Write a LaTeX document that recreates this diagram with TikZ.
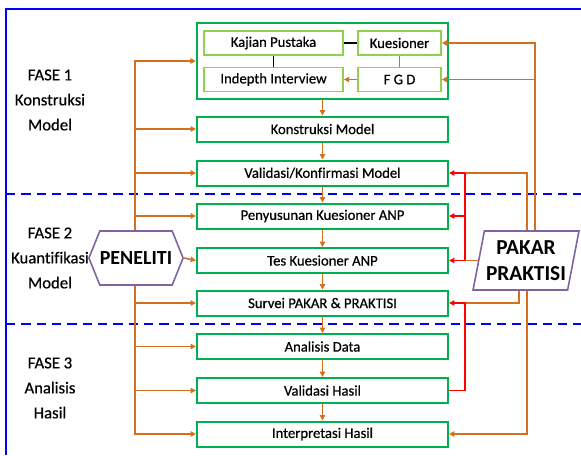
\documentclass[tikz,border=0pt]{standalone}
\usepackage{fontspec}
\setmainfont{Carlito}[Ligatures=NoCommon,UprightFeatures={FakeBold=0.6}]
\usetikzlibrary{arrows.meta,shapes.geometric,shapes.symbols}
\definecolor{biru}{HTML}{0000FF}
\definecolor{hij}{HTML}{00B050}
\definecolor{hijm}{HTML}{92D050}
\definecolor{ora}{HTML}{D46F1E}
\definecolor{ung}{HTML}{8064A2}
\definecolor{mer}{HTML}{FF0000}

\begin{document}
\begin{tikzpicture}[x=0.75pt,y=-0.75pt,
  tahap/.style={draw=hij,line width=1.5pt,minimum width=188.25pt,minimum height=18.75pt,inner sep=0pt,font=\fontsize{11}{13}\selectfont},
  sub/.style={draw=hijm,line width=1.2pt,minimum height=18pt,inner sep=0pt,font=\fontsize{11}{13}\selectfont},
  alir/.style={ora,line width=1.2pt,-{Triangle[length=4pt,width=4pt]}},
  garis/.style={ora,line width=1.2pt},
  balik/.style={mer,line width=1.4pt,-{Triangle[length=4pt,width=4pt]}},
  fase/.style={align=center,font=\fontsize{12.5}{18.75}\selectfont},
  aktor/.style={draw=ung,line width=1.2pt,inner sep=0pt,align=center,font=\bfseries\fontsize{15}{20}\selectfont}]
  \useasboundingbox (0,0) rectangle (581,455);
  \draw[biru,line width=1.5pt] (581,9) -- (6,9) -- (6,455);
  \foreach \y in {194,324}
    \draw[biru,line width=1.6pt,dash pattern=on 7pt off 4.5pt] (6,\y) -- (581,\y);

  \node[fase] (f1) at (50,100) {FASE 1\\Konstruksi\\Model};
  \node[fase] (f2) at (50,258) {FASE 2\\Kuantifikasi\\Model};
  \node[fase] (f3) at (50,388) {FASE 3\\Analisis\\Hasil};

  \node[draw=hij,line width=1.8pt,minimum width=188.25pt,minimum height=57pt] (grp) at (322.5,61) {};
  \node[sub,minimum width=104.25pt] (kaj) at (273.5,43) {Kajian Pustaka};
  \node[sub,minimum width=62.25pt] (kues) at (399.5,43) {Kuesioner};
  \node[sub,minimum width=104.25pt] (ind) at (273.5,79.5) {Indepth Interview};
  \node[sub,minimum width=62.25pt] (fgd) at (399.5,79.5) {F G D};
  \draw[line width=1.8pt] (kaj.east) -- (kues.west);
  \draw[line width=0.6pt] (kaj.south) -- (ind.north);
  \draw[gray,line width=0.6pt] (kues.south) -- (fgd.north);
  \draw[alir] (fgd.west) -- (ind.east);

  \node[tahap] (konst) at (322.5,129) {Konstruksi Model};
  \node[tahap] (valm) at (322.5,173) {Validasi/Konfirmasi Model};
  \node[tahap] (peny) at (322.5,216) {Penyusunan Kuesioner ANP};
  \node[tahap] (tes) at (322.5,260.5) {Tes Kuesioner ANP};
  \node[tahap] (surv) at (322.5,303) {Survei PAKAR \& PRAKTISI};
  \node[tahap] (anal) at (322.5,346.5) {Analisis Data};
  \node[tahap] (vhas) at (322.5,390.5) {Validasi Hasil};
  \node[tahap] (interp) at (322.5,434) {Interpretasi Hasil};
  \foreach \a/\b in {grp/konst,konst/valm,valm/peny,peny/tes,tes/surv,surv/anal,anal/vhas,vhas/interp}
    \draw[alir] (\a.south) -- (\b.north);

  \node[aktor,signal,signal to=west and east,signal pointer angle=136,minimum width=63pt,minimum height=40.5pt] (pen) at (136,258) {PENELITI};
  \node[aktor,trapezium,trapezium left angle=75,trapezium right angle=105,trapezium stretches=true,minimum width=79.5pt,minimum height=44.25pt,font=\bfseries\fontsize{16}{20}\selectfont] (pak) at (526,260.5) {PAKAR\\PRAKTISI};

  \coordinate (tk) at (135,61);
  \draw[alir] (tk |- pen.north) |- (grp.west);
  \draw[alir] (tk |- pen.south) |- (interp.west);
  \foreach \n in {konst,valm,peny,surv,anal,vhas}
    \draw[alir] (tk |- \n.west) -- (\n.west);
  \draw[alir] (pen.east) -- (tes.west);

  \coordinate (xa) at (535,0);
  \coordinate (xb) at (527,0);
  \coordinate (xc) at (519,0);
  \coordinate (xr) at (465,0);
  \draw[alir] (pak.north -| xa) |- (kues.east);
  \draw[alir] (xa |- fgd.east) -- (fgd.east);
  \draw[garis] (pak.north -| xb) |- (xr |- valm.east);
  \draw[mer,line width=1.4pt] (xr |- valm.east) -- (xr |- tes.east);
  \draw[balik] (xr |- valm.east) -- (valm.east);
  \draw[balik] (xr |- peny.east) -- (peny.east);
  \draw[garis] (pak.west) -- (xr |- pak.west);
  \draw[balik] (xr |- tes.east) -- (tes.east);
  \draw[garis] (pak.south -| xc) |- (xr |- surv.east);
  \draw[balik] (vhas.east) -| (xr |- surv.east) -- (surv.east);
  \draw[alir] (pak.south -| xb) |- (interp.east);
\end{tikzpicture}
\end{document}
